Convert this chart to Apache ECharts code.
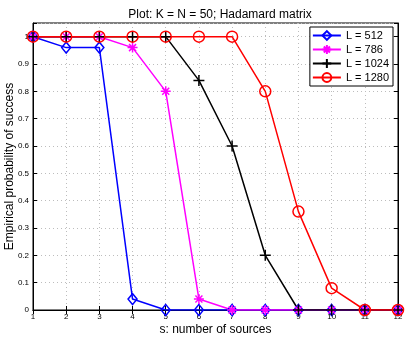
<!DOCTYPE html>
<html>
<head>
<meta charset="utf-8">
<script src="https://cdn.jsdelivr.net/npm/echarts@6/dist/echarts.min.js"></script>
<style>
  html, body { margin: 0; padding: 0; background: #fff; }
  #chart { width: 409px; height: 337px; }
</style>
</head>
<body>
<div id="chart"></div>
<script>
// 数据：s = 源数量，各 L 下的经验成功概率
const sources = [1, 2, 3, 4, 5, 6, 7, 8, 9, 10, 11, 12];
const seriesNames = ['L = 512', 'L = 786', 'L = 1024', 'L = 1280'];
const probL512  = [1, 0.96, 0.96, 0.04, 0, 0, 0, 0, 0, 0, 0, 0];
const probL786  = [1, 1, 1, 0.96, 0.8, 0.04, 0, 0, 0, 0, 0, 0];
const probL1024 = [1, 1, 1, 1, 1, 0.84, 0.6, 0.2, 0, 0, 0, 0];
const probL1280 = [1, 1, 1, 1, 1, 1, 1, 0.8, 0.36, 0.08, 0, 0];

const FONT = "'Liberation Sans', Arial, sans-serif";
const STAR = 'path://M0,-10L0,10M-10,0L10,0M-7,-7L7,7M-7,7L7,-7';
const PLUS = 'path://M0,-10L0,10M-10,0L10,0';

function pairs(vals) {
  return sources.map((s, i) => [s, vals[i]]);
}

// 空心标记（菱形/圆）填充透明，仅描边
function mkSeries(name, vals, color, symbol, size, hollow) {
  return {
    name,
    type: 'line',
    data: pairs(vals),
    symbol,
    symbolSize: size,
    showAllSymbol: true,
    lineStyle: { color, width: 1.5 },
    itemStyle: { color: hollow ? 'rgba(0,0,0,0)' : color, borderColor: color, borderWidth: 1.5 },
    emphasis: { disabled: true },
    animation: false,
  };
}

const chart = echarts.init(document.getElementById('chart'));
const series = [
  mkSeries(seriesNames[0], probL512, '#0000ff', 'diamond', [9, 11], true),
  mkSeries(seriesNames[1], probL786, '#ff00ff', STAR, 10, false),
  mkSeries(seriesNames[2], probL1024, '#000000', PLUS, 11, false),
  mkSeries(seriesNames[3], probL1280, '#ff0000', 'circle', 11, true),
];

const tickLabel = { color: '#000', fontSize: 8, fontFamily: FONT };
const dotted = { show: true, lineStyle: { color: '#bdbdbd', type: [1, 3], width: 1 } };

chart.setOption({
  backgroundColor: '#fff',
  textStyle: { fontFamily: FONT },
  title: {
    text: 'Plot: K = N = 50; Hadamard matrix',
    left: 215, top: 4, textAlign: 'center',
    textStyle: { fontSize: 12, fontWeight: 'normal', color: '#000', fontFamily: FONT },
  },
  legend: {
    data: seriesNames,
    orient: 'vertical',
    right: 16, top: 27,
    backgroundColor: '#fff',
    borderColor: '#000', borderWidth: 1,
    padding: [3, 4, 3, 2],
    itemGap: 3,
    itemWidth: 28, itemHeight: 11,
    textStyle: { fontSize: 11, color: '#000', fontFamily: FONT },
  },
  grid: {
    left: 33, right: 11, top: 23, bottom: 27,
    outerBoundsMode: 'none', containLabel: false,
    show: true, borderColor: '#000', borderWidth: 1,
  },
  xAxis: [{
    type: 'value', min: 1, max: 12, interval: 1,
    name: 's: number of sources', nameLocation: 'middle', nameGap: 14, nameMoveOverlap: false,
    nameTextStyle: { fontSize: 12, color: '#000', fontFamily: FONT },
    axisLine: { lineStyle: { color: '#000' } },
    axisTick: { inside: true, length: 4, lineStyle: { color: '#000' } },
    axisLabel: { ...tickLabel, margin: 3 },
    splitLine: dotted,
  }, {
    type: 'value', min: 1, max: 12, interval: 1, position: 'top',
    axisLine: { lineStyle: { color: '#000' } },
    axisTick: { inside: true, length: 4, lineStyle: { color: '#000' } },
    axisLabel: { show: false },
    splitLine: { show: false },
  }],
  yAxis: [{
    type: 'value', min: 0, max: 1.05, interval: 0.1,
    name: 'Empirical probability of success', nameLocation: 'middle', nameGap: 17, nameMoveOverlap: false,
    nameTextStyle: { fontSize: 12, color: '#000', fontFamily: FONT },
    axisLine: { show: true, lineStyle: { color: '#000' } },
    axisTick: { show: true, inside: true, length: 4, lineStyle: { color: '#000' } },
    axisLabel: {
      ...tickLabel, margin: 4,
      formatter: (v) => (Math.abs(v * 10 - Math.round(v * 10)) < 1e-6 ? String(+v.toFixed(1)) : ''),
    },
    splitLine: dotted,
  }, {
    type: 'value', min: 0, max: 1.05, interval: 0.1, position: 'right',
    axisLine: { show: true, lineStyle: { color: '#000' } },
    axisTick: { show: true, inside: true, length: 4, lineStyle: { color: '#000' } },
    axisLabel: { show: false },
    splitLine: { show: false },
  }],
  series,
});
</script>
</body>
</html>
